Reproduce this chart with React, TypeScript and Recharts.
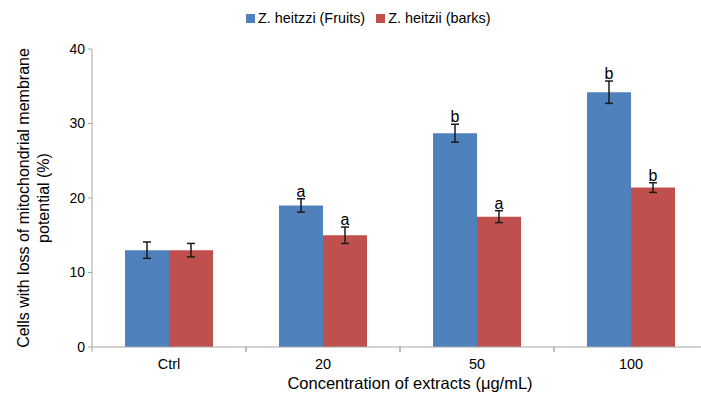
import React from 'react';
import { BarChart, Bar, XAxis, YAxis, ErrorBar, LabelList, Legend } from 'recharts';

const categories = ['Ctrl', '20', '50', '100'];
const fruitsValues = [13, 19, 28.7, 34.2];
const fruitsErrors = [1.1, 0.9, 1.2, 1.5];
const fruitsLetters = ['', 'a', 'b', 'b'];
const barksValues = [13, 15, 17.5, 21.4];
const barksErrors = [0.9, 1.1, 0.8, 0.65];
const barksLetters = ['', 'a', 'a', 'b'];
const yTicks = [0, 10, 20, 30, 40];

const seriesNames = ['Z. heitzzi (Fruits)', 'Z. heitzii (barks)'];
const BLUE = '#4F81BD';
const RED = '#C0504D';
const AXIS = '#A6A6A6';
const FONT = '"Liberation Sans", Arial, Helvetica, sans-serif';

const data = categories.map((c, i) => ({
  name: c,
  fruits: fruitsValues[i],
  errF: fruitsErrors[i],
  sigF: fruitsLetters[i],
  barks: barksValues[i],
  errB: barksErrors[i],
  sigB: barksLetters[i],
}));

const CHART_W = 720;
const PLOT_LEFT = 92;
const PLOT_RIGHT_MARGIN = 12;
const HALF_BAND = (CHART_W - PLOT_LEFT - PLOT_RIGHT_MARGIN) / categories.length / 2;

const XTick = (props: any) => {
  const { x, y, payload } = props;
  return (
    <g>
      <line x1={x - HALF_BAND} x2={x - HALF_BAND} y1={y} y2={y + 5} stroke={AXIS} strokeWidth={1} />
      <line x1={x + HALF_BAND} x2={x + HALF_BAND} y1={y} y2={y + 5} stroke={AXIS} strokeWidth={1} />
      <text x={x} y={y + 22} textAnchor="middle" fill="#000" fontSize={14.5} fontFamily={FONT}>
        {payload.value}
      </text>
    </g>
  );
};

const makeLetter = (values: number[], errors: number[], letters: string[]) => (props: any) => {
  const { x, y, width, height, index } = props;
  const letter = letters[index];
  if (!letter) return null;
  const v = values[index];
  const e = errors[index];
  const pxPerUnit = height / v;
  const top = y - e * pxPerUnit;
  return (
    <text x={x + width / 2} y={top - 2} textAnchor="middle" fill="#000" fontSize={16} fontFamily={FONT}>
      {letter}
    </text>
  );
};

const YTitle = () => (
  <g>
    <text x={23} y={198} transform="rotate(-90 23 198)" textAnchor="middle" dominantBaseline="central" fontSize={16} fontFamily={FONT} fill="#000">
      Cells with loss of mitochondrial membrane
    </text>
    <text x={43} y={198} transform="rotate(-90 43 198)" textAnchor="middle" dominantBaseline="central" fontSize={16} fontFamily={FONT} fill="#000">
      potential (%)
    </text>
  </g>
);

const XTitle = () => (
  <text x={410} y={389} textAnchor="middle" fontSize={16.5} fontFamily={FONT} fill="#000">
    Concentration of extracts (μg/mL)
  </text>
);

const LegendContent = () => (
  <div style={{ display: 'flex', justifyContent: 'flex-start', paddingLeft: 246, fontFamily: FONT, fontSize: 14.4, color: '#000', lineHeight: '20px', height: 20 }}>
    {seriesNames.map((n, i) => (
      <span key={n} style={{ display: 'inline-flex', alignItems: 'center', marginRight: 11 }}>
        <span style={{ display: 'inline-block', width: 9, height: 9, background: i === 0 ? BLUE : RED, marginRight: 3 }} />
        <span>{n}</span>
      </span>
    ))}
  </div>
);

export default function App() {
  return (
    <div style={{ position: 'absolute', left: 0, top: 0, width: 701, height: 403, overflow: 'hidden', background: '#fff' }}>
      <BarChart
        width={CHART_W}
        height={403}
        data={data}
        margin={{ top: 29, right: PLOT_RIGHT_MARGIN, left: 0, bottom: 0 }}
        barCategoryGap={33}
        barGap={0}
      >
        <Legend verticalAlign="top" align="left" content={LegendContent} wrapperStyle={{ top: 8, left: 0, height: 20 }} />
        <XAxis
          dataKey="name"
          height={56}
          stroke={AXIS}
          tickLine={false}
          tickSize={0}
          tickMargin={0}
          tick={XTick}
          interval={0}
          label={<XTitle />}
        />
        <YAxis
          width={PLOT_LEFT}
          domain={[0, 40]}
          ticks={yTicks}
          stroke={AXIS}
          tickSize={4}
          tickMargin={3}
          tick={{ fill: '#000', fontSize: 14, fontFamily: FONT }}
          label={<YTitle />}
        />
        <Bar dataKey="fruits" fill={BLUE} isAnimationActive={false}>
          <ErrorBar dataKey="errF" width={4} stroke="#1a1a1a" strokeWidth={1.5} />
          <LabelList dataKey="sigF" content={makeLetter(fruitsValues, fruitsErrors, fruitsLetters)} />
        </Bar>
        <Bar dataKey="barks" fill={RED} isAnimationActive={false}>
          <ErrorBar dataKey="errB" width={4} stroke="#1a1a1a" strokeWidth={1.5} />
          <LabelList dataKey="sigB" content={makeLetter(barksValues, barksErrors, barksLetters)} />
        </Bar>
      </BarChart>
    </div>
  );
}
